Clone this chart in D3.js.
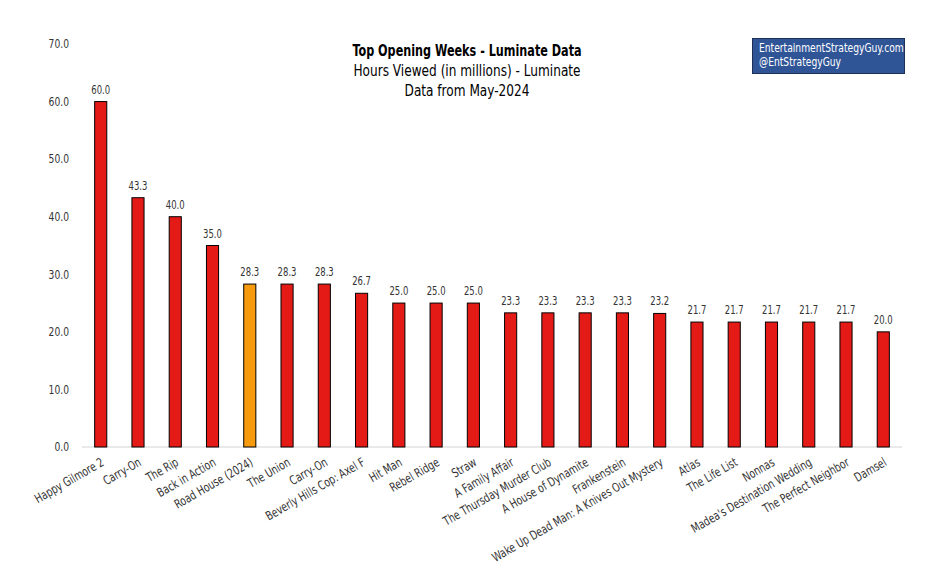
<!DOCTYPE html>
<html>
<head>
<meta charset="utf-8">
<script src="https://cdn.jsdelivr.net/npm/d3@7"></script>
<style>
  body { margin: 0; background: #fff; }
  text { font-family: "DejaVu Sans Condensed", "Liberation Sans Narrow", sans-serif; }
</style>
</head>
<body>
<svg id="chart" width="942" height="584"></svg>
<script>
// data
var titles = ["Happy Gilmore 2", "Carry-On", "The Rip", "Back in Action", "Road House (2024)",
  "The Union", "Carry-On", "Beverly Hills Cop: Axel F", "Hit Man", "Rebel Ridge", "Straw",
  "A Family Affair", "The Thursday Murder Club", "A House of Dynamite", "Frankenstein",
  "Wake Up Dead Man: A Knives Out Mystery", "Atlas", "The Life List", "Nonnas",
  "Madea's Destination Wedding", "The Perfect Neighbor", "Damsel"];
var hours = [60.0, 43.3, 40.0, 35.0, 28.3, 28.3, 28.3, 26.7, 25.0, 25.0, 25.0,
  23.3, 23.3, 23.3, 23.3, 23.2, 21.7, 21.7, 21.7, 21.7, 21.7, 20.0];
var highlighted = ["Road House (2024)"];
var yTicks = [0, 10, 20, 30, 40, 50, 60, 70];
var titleLines = ["Top Opening Weeks - Luminate Data", "Hours Viewed (in millions) - Luminate", "Data from May-2024"];
var sourceLines = ["EntertainmentStrategyGuy.com", "@EntStrategyGuy"];

var rows = titles.map(function(t, i) { return {key: i, name: t, value: hours[i]}; });

var svg = d3.select("#chart");
var plotLeft = 82, plotRight = 902, plotTop = 44, plotBottom = 447;

// narrow the glyphs horizontally (the reference uses a condensed face)
function squeeze(sel, sx) {
  sel.each(function() {
    var t = d3.select(this);
    var tx = +t.attr("x") || 0, ty = +t.attr("y") || 0;
    t.attr("x", 0).attr("y", 0)
     .attr("transform", "translate(" + tx + "," + ty + ") scale(" + sx + ",1)");
  });
}

var x = d3.scaleBand()
  .domain(rows.map(function(d) { return d.key; }))
  .range([plotLeft, plotRight])
  .paddingInner(0.675)
  .paddingOuter(0.34);

var y = d3.scaleLinear().domain([0, 70]).range([plotBottom, plotTop]);

// y axis
var yAxis = svg.append("g")
  .attr("class", "axis-y")
  .attr("transform", "translate(" + plotLeft + ",0)")
  .call(d3.axisLeft(y).tickValues(yTicks).tickFormat(d3.format(".1f")).tickSize(0).tickPadding(13));
yAxis.select(".domain").remove();
yAxis.attr("font-family", null);
yAxis.selectAll("text")
  .attr("font-size", 12)
  .attr("fill", "#333");
squeeze(yAxis.selectAll("text"), 0.85);

// baseline
svg.append("line")
  .attr("x1", plotLeft).attr("x2", plotRight)
  .attr("y1", y(0)).attr("y2", y(0))
  .attr("stroke", "#d4d4d4").attr("stroke-width", 1);

// bars
svg.selectAll(".bar")
  .data(rows)
  .enter().append("rect")
  .attr("class", "bar")
  .attr("x", function(d) { return x(d.key); })
  .attr("width", x.bandwidth())
  .attr("y", function(d) { return y(d.value); })
  .attr("height", function(d) { return y(0) - y(d.value); })
  .attr("fill", function(d) { return highlighted.indexOf(d.name) >= 0 ? "#F79A0E" : "#E41A17"; })
  .attr("stroke", "#000").attr("stroke-width", 1);

// value labels
var vals = svg.selectAll(".val")
  .data(rows)
  .enter().append("text")
  .attr("class", "val")
  .attr("x", function(d) { return x(d.key) + x.bandwidth() / 2; })
  .attr("y", function(d) { return y(d.value) - 8; })
  .attr("text-anchor", "middle")
  .attr("font-size", 11.5)
  .attr("fill", "#333")
  .text(function(d) { return d3.format(".1f")(d.value); });
squeeze(vals, 0.82);

// x labels
svg.selectAll(".xlab")
  .data(rows)
  .enter().append("text")
  .attr("class", "xlab")
  .attr("transform", function(d) {
    return "translate(" + (x(d.key) + x.bandwidth() / 2 + 2) + "," + (y(0) + 14) + ") rotate(-30) scale(0.82,1)";
  })
  .attr("text-anchor", "end")
  .attr("dy", "0.35em")
  .attr("font-size", 12.5)
  .attr("fill", "#333")
  .text(function(d) { return d.name; });

// title
var tl = svg.selectAll(".title")
  .data(titleLines)
  .enter().append("text")
  .attr("class", "title")
  .attr("x", 467)
  .attr("y", function(d, i) { return 56 + i * 20; })
  .attr("text-anchor", "middle")
  .attr("font-size", function(d, i) { return i === 0 ? 16 : 15; })
  .attr("font-weight", function(d, i) { return i === 0 ? "bold" : "normal"; })
  .attr("fill", "#000")
  .text(function(d) { return d; });
squeeze(tl.filter(function(d, i) { return i === 0; }), 0.78);
squeeze(tl.filter(function(d, i) { return i > 0; }), 0.9);

// source box
svg.append("rect")
  .attr("x", 752.5).attr("y", 38.5).attr("width", 152).attr("height", 35)
  .attr("fill", "#2F5597").attr("stroke", "#1F2F55").attr("stroke-width", 1);
var src = svg.selectAll(".src")
  .data(sourceLines)
  .enter().append("text")
  .attr("class", "src")
  .attr("x", 759)
  .attr("y", function(d, i) { return 52 + i * 14; })
  .attr("font-size", 12)
  .attr("fill", "#fff")
  .text(function(d) { return d; });
squeeze(src, 0.85);
</script>
</body>
</html>
